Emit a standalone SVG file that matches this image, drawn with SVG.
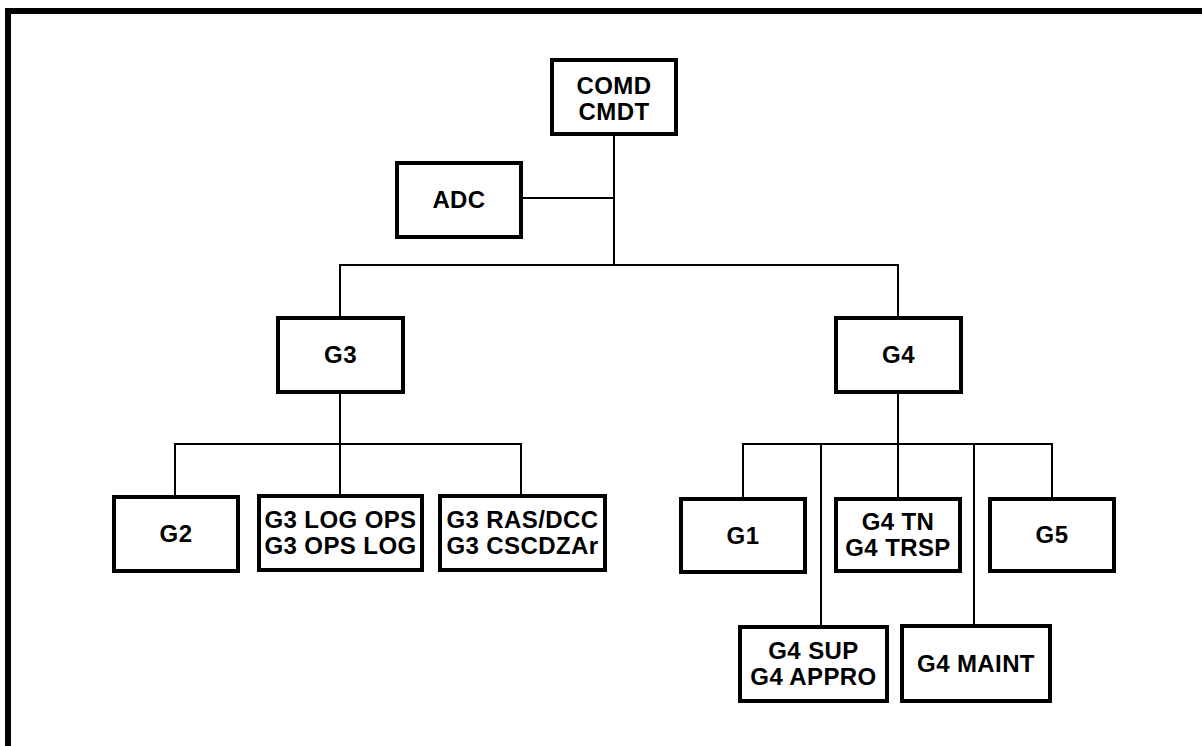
<svg xmlns="http://www.w3.org/2000/svg" width="1202" height="746" viewBox="0 0 1202 746">
<style>
.box{fill:#fff;stroke:#000;stroke-width:4}
.t{font-family:"Liberation Sans",Arial,sans-serif;font-weight:bold;font-size:24px;letter-spacing:0.4px;text-anchor:middle;fill:#000}
.c{fill:none;stroke:#000;stroke-width:2}
.frame{fill:none;stroke:#000;stroke-width:6}
</style>
<rect width="1202" height="746" fill="#fff"/>
<polyline class="frame" points="8,746 8,11 1202,11"/>
<g id="connectors">
<line class="c" x1="614" y1="135" x2="614" y2="265"/>
<line class="c" x1="523" y1="198" x2="614" y2="198"/>
<polyline class="c" points="340,316 340,265 898,265 898,316"/>
<line class="c" x1="340" y1="393" x2="340" y2="494"/>
<polyline class="c" points="175,495 175,444 521,444 521,494"/>
<line class="c" x1="898" y1="394" x2="898" y2="497"/>
<polyline class="c" points="743,497 743,444 1052,444 1052,497"/>
<line class="c" x1="821" y1="444" x2="821" y2="625"/>
<line class="c" x1="974" y1="444" x2="974" y2="624"/>
</g>
<g id="comd"><rect class="box" x="552" y="60" width="124" height="74"/><text class="t" x="614" y="94">COMD</text><text class="t" x="614" y="120">CMDT</text></g>
<g id="adc"><rect class="box" x="397" y="163" width="124" height="74"/><text class="t" x="459" y="208">ADC</text></g>
<g id="g3"><rect class="box" x="278" y="318" width="125" height="74"/><text class="t" x="340.5" y="363">G3</text></g>
<g id="g4"><rect class="box" x="836" y="318" width="125" height="74"/><text class="t" x="898.5" y="363">G4</text></g>
<g id="g2"><rect class="box" x="114" y="497" width="124" height="74"/><text class="t" x="176" y="542">G2</text></g>
<g id="g3log"><rect class="box" x="259" y="496" width="163" height="74"/><text class="t" x="340.5" y="528">G3 LOG OPS</text><text class="t" x="340.5" y="554">G3 OPS LOG</text></g>
<g id="g3ras"><rect class="box" x="440" y="496" width="165" height="74"/><text class="t" x="522.5" y="528">G3 RAS/DCC</text><text class="t" x="522.5" y="554">G3 CSCDZAr</text></g>
<g id="g1"><rect class="box" x="681" y="499" width="124" height="73"/><text class="t" x="743" y="544">G1</text></g>
<g id="g4tn"><rect class="box" x="836" y="499" width="124" height="72"/><text class="t" x="898" y="530">G4 TN</text><text class="t" x="898" y="556">G4 TRSP</text></g>
<g id="g5"><rect class="box" x="990" y="499" width="124" height="72"/><text class="t" x="1052" y="543">G5</text></g>
<g id="g4sup"><rect class="box" x="740" y="627" width="147" height="74"/><text class="t" x="813.5" y="659">G4 SUP</text><text class="t" x="813.5" y="685">G4 APPRO</text></g>
<g id="g4maint"><rect class="box" x="902" y="626" width="148" height="75"/><text class="t" x="976" y="672">G4 MAINT</text></g>
</svg>
